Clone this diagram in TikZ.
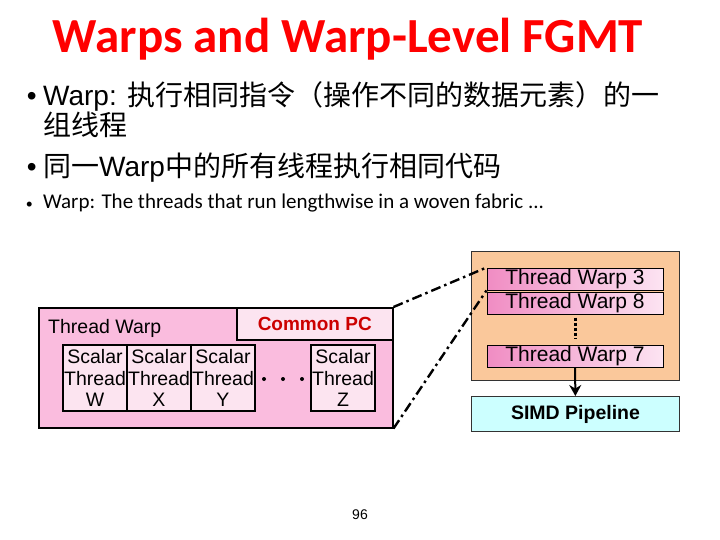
\documentclass[tikz,border=0pt]{standalone}
\usepackage{fontspec}
\setmainfont{Liberation Sans}
\newfontfamily\cjk{Noto Sans CJK SC}
\newfontfamily\titlefont{Carlito}
\usetikzlibrary{arrows.meta}
\definecolor{pinkbox}{RGB}{250,188,222}
\definecolor{lightpink}{RGB}{252,228,240}
\definecolor{peach}{RGB}{250,200,155}
\definecolor{simdcyan}{RGB}{204,255,255}
\definecolor{warpdark}{RGB}{240,140,195}
\definecolor{warplight}{RGB}{252,228,242}
\definecolor{pcred}{RGB}{204,0,0}
\begin{document}
\begin{tikzpicture}[
x=1pt,
y=-1pt,
txt/.style={inner sep=0pt, anchor=base west},
box/.style={draw=black, line width=1.5pt, inner sep=0pt},
scalarbox/.style={draw=black, line width=1.2pt, fill=lightpink, minimum width=64pt, minimum height=66pt, inner sep=0pt, align=center, font=\fontsize{19.5}{21.5}\selectfont},
warpbox/.style={draw=black, line width=1pt, left color=warpdark, right color=warplight, minimum width=176pt, minimum height=22pt, inner sep=0pt, font=\fontsize{21}{22}\selectfont},
linkline/.style={line width=2.4pt, dash pattern=on 10pt off 4pt on 2.5pt off 4pt},
]
\useasboundingbox (0,0) rectangle (720,540);
\node[text=red, font=\titlefont\bfseries\fontsize{49}{52}\selectfont] (title) at (348,39) {Warps and Warp-Level FGMT};
\node[txt, anchor=base east, font=\fontsize{28}{30}\selectfont] (dot1) at (37,106) {•};
\node[txt, font=\fontsize{28}{30}\selectfont] (line1) at (43,106) {Warp: {\cjk 执行相同指令（操作不同的数据元素）的一}};
\node[txt, font=\fontsize{28}{30}\selectfont] (line1b) at (43,136) {{\cjk 组线程}};
\node[txt, anchor=base east, font=\fontsize{28}{30}\selectfont] (dot2) at (37,177) {•};
\node[txt, font=\fontsize{28}{30}\selectfont] (line2) at (43,177) {{\cjk 同一}Warp{\cjk 中的所有线程执行相同代码}};
\node[txt, anchor=base east, font=\titlefont\fontsize{14}{16}\selectfont] (dot3) at (33,208) {•};
\node[txt, font=\titlefont\fontsize{21}{23}\selectfont] (line3) at (43,208) {Warp: The threads that run lengthwise in a woven fabric ...};
\node[box, fill=pinkbox, minimum width=354pt, minimum height=120pt, anchor=north west] (warp) at (38,307) {};
\node[box, fill=lightpink, minimum width=156pt, minimum height=32pt, anchor=north east, text=pcred, font=\bfseries\fontsize{19}{20}\selectfont] (pc) at (warp.north east) {Common PC};
\node[txt, font=\fontsize{19.5}{21}\selectfont] (warplabel) at (48,333) {Thread Warp};
\foreach \x/\n/\name in {95/W/w, 159/X/x, 223/Y/y, 343/Z/z}
{
 \node[scalarbox] (s\name) at (\x,378) {Scalar\\Thread\\\n};
}
\foreach \x in {264,283,302}
{
 \fill (\x,379) circle (2pt);
}
\node[box, draw=black!80, line width=1pt, fill=peach, minimum width=208pt, minimum height=129pt, anchor=north west] (sched) at (471,251) {};
\node[warpbox] (w3) at (575,279) {Thread Warp 3};
\node[warpbox] (w8) at (575,303) {Thread Warp 8};
\node[warpbox] (w7) at (575,356) {Thread Warp 7};
\draw[line width=3pt, dash pattern=on 3pt off 2pt, shorten <=3pt, shorten >=6pt] (w8) -- (w7);
\node[box, draw=black!80, line width=1pt, fill=simdcyan, minimum width=208pt, minimum height=35pt, anchor=north west, font=\bfseries\fontsize{19.5}{21}\selectfont] (simd) at (471,396) {SIMD Pipeline};
\draw[-{Stealth[length=11pt,width=12pt]}, line width=2pt] (w7) -- (simd);
\draw[linkline] (warp.north east) -- (w3.north west);
\draw[linkline] (warp.south east) -- (w3.south west);
\node[font=\fontsize{14}{16}\selectfont] (page) at (360,515) {96};
\end{tikzpicture}
\end{document}
